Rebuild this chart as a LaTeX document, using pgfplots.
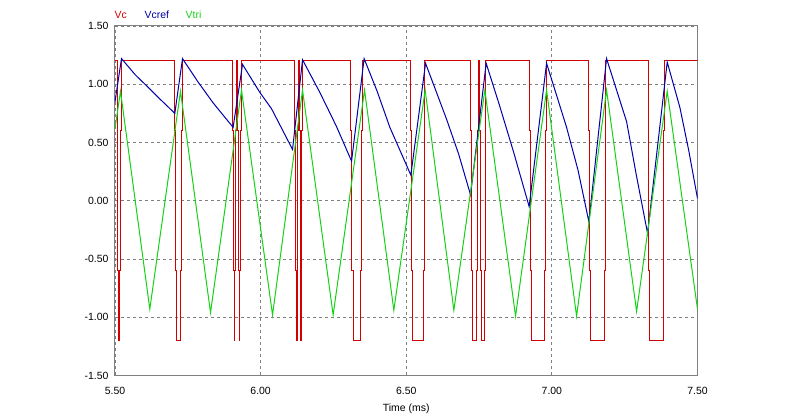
\documentclass[border=0pt]{standalone}
\usepackage{fontspec}
\setmainfont{Liberation Sans}
\usepackage{pgfplots}
\pgfplotsset{compat=1.18}
\definecolor{vcred}{RGB}{210,0,0}
\definecolor{vcblue}{RGB}{0,0,170}
\definecolor{vtgreen}{RGB}{20,210,20}
\definecolor{framegray}{RGB}{128,128,128}

\begin{document}
\begin{tikzpicture}
\path (-115bp,-39.5bp) rectangle (681bp,375.5bp);
\begin{axis}[
    at={(0,0)}, anchor=south west,
    scale only axis,
    width=582.5bp, height=349.5bp,
    xmin=5.5, xmax=7.5,
    ymin=-1.5, ymax=1.5,
    xtick={5.5,6,6.5,7,7.5},
    ytick={-1.5,-1,-0.5,0,0.5,1,1.5},
    major tick length=0pt,
    grid=major,
    grid style={framegray, line width=0.8bp, dash pattern=on 3bp off 3bp},
    axis line style={framegray, line width=1bp},
    /pgf/number format/assume math mode=true,
    /pgf/number format/.cd, fixed, fixed zerofill, precision=2, /pgfplots/.cd,
    tick label style={font=\fontsize{10.5}{12}\selectfont, text=black},
    xticklabel style={yshift=-8bp},
    yticklabel style={xshift=-3bp},
    xlabel={Time (ms)},
    xlabel style={font=\fontsize{10.5}{12}\selectfont, yshift=-3bp},
    clip=true,
]
% Vc
\addplot[vcred, line width=1bp] coordinates {
(5.5,1.2)
(5.5076,1.2)(5.5076,0.6)(5.5103,0.6)(5.5103,-0.6)(5.5130,-0.6)(5.5130,-1.2)(5.5158,-1.2)(5.5158,-0.6)(5.5185,-0.6)(5.5185,0.6)(5.5213,0.6)(5.5213,1.2)
(5.7030,1.2)(5.7030,0.6)(5.7074,0.6)(5.7074,-0.6)(5.7119,-0.6)(5.7119,-1.2)(5.7236,-1.2)(5.7236,-0.6)(5.7270,-0.6)(5.7270,0.6)(5.7304,0.6)(5.7304,1.2)
(5.9035,1.2)(5.9035,0.6)(5.9066,0.6)(5.9066,-0.6)(5.9097,-0.6)(5.9097,-1.2)(5.9114,-1.2)(5.9114,-0.6)(5.9145,-0.6)(5.9145,0.6)(5.9176,0.6)(5.9176,1.2)
(5.9203,1.2)(5.9203,0.6)(5.9234,0.6)(5.9234,-0.6)(5.9265,-0.6)(5.9265,-1.2)(5.9272,-1.2)(5.9272,-0.6)(5.9303,-0.6)(5.9303,0.6)(5.9334,0.6)(5.9334,1.2)
(6.1174,1.2)(6.1174,0.6)(6.1205,0.6)(6.1205,-0.6)(6.1236,-0.6)(6.1236,-1.2)(6.1250,-1.2)(6.1250,-0.6)(6.1281,-0.6)(6.1281,0.6)(6.1312,0.6)(6.1312,1.2)
(6.1329,1.2)(6.1329,0.6)(6.1356,0.6)(6.1356,-0.6)(6.1384,-0.6)(6.1384,-1.2)(6.1391,-1.2)(6.1391,-0.6)(6.1418,-0.6)(6.1418,0.6)(6.1446,0.6)(6.1446,1.2)
(6.3097,1.2)(6.3097,0.6)(6.3135,0.6)(6.3135,-0.6)(6.3173,-0.6)(6.3173,-1.2)(6.3437,-1.2)(6.3437,-0.6)(6.3475,-0.6)(6.3475,0.6)(6.3513,0.6)(6.3513,1.2)
(6.5141,1.2)(6.5141,0.6)(6.5172,0.6)(6.5172,-0.6)(6.5202,-0.6)(6.5202,-1.2)(6.5580,-1.2)(6.5580,-0.6)(6.5611,-0.6)(6.5611,0.6)(6.5642,0.6)(6.5642,1.2)
(6.7218,1.2)(6.7218,0.6)(6.7247,0.6)(6.7247,-0.6)(6.7277,-0.6)(6.7277,-1.2)(6.7414,-1.2)(6.7414,-0.6)(6.7443,-0.6)(6.7443,0.6)(6.7472,0.6)(6.7472,1.2)
(6.7527,1.2)(6.7527,0.6)(6.7556,0.6)(6.7556,-0.6)(6.7586,-0.6)(6.7586,-1.2)(6.7675,-1.2)(6.7675,-0.6)(6.7704,-0.6)(6.7704,0.6)(6.7733,0.6)(6.7733,1.2)
(6.9244,1.2)(6.9244,0.6)(6.9273,0.6)(6.9273,-0.6)(6.9303,-0.6)(6.9303,-1.2)(6.9759,-1.2)(6.9759,-0.6)(6.9789,-0.6)(6.9789,0.6)(6.9818,0.6)(6.9818,1.2)
(7.1270,1.2)(7.1270,0.6)(7.1300,0.6)(7.1300,-0.6)(7.1329,-0.6)(7.1329,-1.2)(7.1796,-1.2)(7.1796,-0.6)(7.1825,-0.6)(7.1825,0.6)(7.1854,0.6)(7.1854,1.2)
(7.3307,1.2)(7.3307,0.6)(7.3331,0.6)(7.3331,-0.6)(7.3355,-0.6)(7.3355,-1.2)(7.3822,-1.2)(7.3822,-0.6)(7.3846,-0.6)(7.3846,0.6)(7.3870,0.6)(7.3870,1.2)
(7.5,1.2)
};
% Vcref
\addplot[vcblue, line width=1bp] coordinates {
(5.5,0.85)(5.5223,1.22)(5.5700,1.08)(5.6195,0.96)(5.6597,0.86)(5.7054,0.75)
(5.7318,1.22)(5.7850,1.02)(5.8369,0.84)(5.9056,0.63)
(5.9378,1.17)(5.9973,0.93)(6.0374,0.79)(6.1096,0.44)
(6.1439,1.21)(6.2033,0.93)(6.2600,0.64)(6.3122,0.34)
(6.3554,1.22)(6.4000,0.94)(6.4437,0.63)(6.5158,0.22)
(6.5663,1.18)(6.6384,0.70)(6.6800,0.40)(6.7208,0.05)
(6.7744,1.18)(6.8200,0.82)(6.8671,0.43)(6.9220,-0.05)
(6.9818,1.18)(7.0505,0.63)(7.0900,0.26)(7.1271,-0.18)
(7.1878,1.22)(7.2565,0.68)(7.2900,0.22)(7.3286,-0.28)
(7.3960,1.19)(7.4396,0.80)(7.4700,0.43)(7.5,0.02)
};
% Vtri
\addplot[vtgreen, line width=1bp] coordinates {
(5.5,0.62)(5.5189,0.94)(5.6195,-0.93)(5.7249,0.94)(5.8280,-0.96)
(5.9344,0.95)(6.0409,-0.98)(6.1439,0.95)(6.2490,-0.98)(6.3568,0.95)
(6.4574,-0.94)(6.5649,0.95)(6.6635,-0.94)(6.7699,0.95)(6.8753,-0.99)
(6.9818,0.95)(7.0848,-0.99)(7.1878,0.95)(7.2909,-0.95)(7.3960,0.94)
(7.5,-0.93)
};
\end{axis}
\begin{scope}[font=\fontsize{10.5}{12}\selectfont]
\node[anchor=base west, inner sep=0pt, text=vcred] at (-0.5bp,357bp) {Vc};
\node[anchor=base west, inner sep=0pt, text=vcblue] at (29.5bp,357bp) {Vcref};
\node[anchor=base west, inner sep=0pt, text=vtgreen] at (70.5bp,357bp) {Vtri};
\end{scope}
\end{tikzpicture}
\end{document}
